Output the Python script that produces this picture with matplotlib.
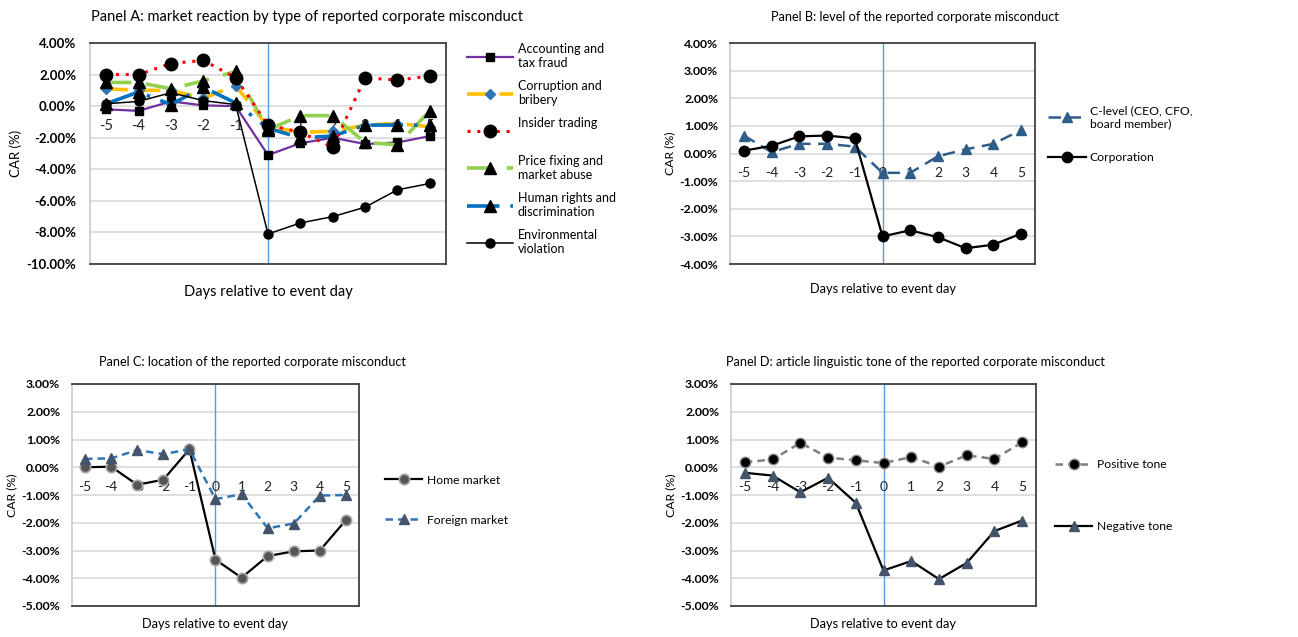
import matplotlib
matplotlib.use("Agg")
import matplotlib.pyplot as plt
from matplotlib.ticker import FuncFormatter, MultipleLocator

plt.rcParams['font.family'] = ['Lato', 'DejaVu Sans']

days = [-5, -4, -3, -2, -1, 0, 1, 2, 3, 4, 5]
day_labels = [str(d) for d in days]

# Panel A: CAR (%) by type of misconduct
accounting = [-0.2, -0.3, 0.3, 0.05, 0.0, -3.1, -2.35, -2.0, -2.4, -2.3, -1.9]
corruption = [1.1, 1.0, 1.0, 0.5, 1.3, -1.3, -1.65, -1.6, -1.2, -1.1, -1.3]
insider = [2.0, 2.0, 2.7, 2.9, 1.8, -1.2, -1.65, -2.6, 1.8, 1.65, 1.9]
price_fixing = [1.5, 1.5, 1.1, 1.6, 2.2, -1.5, -0.6, -0.6, -2.3, -2.45, -0.3]
human_rights = [0.15, 0.9, 0.1, 1.2, 0.2, -1.4, -2.0, -1.9, -1.2, -1.2, -1.2]
environmental = [0.15, 0.3, 0.85, 0.35, 0.1, -8.1, -7.4, -7.0, -6.4, -5.3, -4.9]

# Panel B: level of misconduct
c_level = [0.65, 0.05, 0.35, 0.35, 0.25, -0.7, -0.7, -0.1, 0.15, 0.35, 0.85]
corporation = [0.1, 0.28, 0.62, 0.65, 0.55, -3.0, -2.78, -3.03, -3.43, -3.3, -2.9]

# Panel C: location of misconduct
home_market = [0.0, 0.02, -0.63, -0.45, 0.65, -3.33, -3.98, -3.2, -3.03, -3.0, -1.9]
foreign_market = [0.3, 0.32, 0.62, 0.47, 0.65, -1.15, -0.97, -2.2, -2.03, -1.02, -1.0]

# Panel D: linguistic tone
positive_tone = [0.18, 0.28, 0.88, 0.35, 0.25, 0.15, 0.37, 0.02, 0.43, 0.3, 0.9]
negative_tone = [-0.2, -0.3, -0.9, -0.38, -1.28, -3.72, -3.38, -4.03, -3.45, -2.3, -1.92]

W, H = 1298, 637
fig = plt.figure(figsize=(W / 100, H / 100), dpi=100)


def make_axes(left, top, right, bottom):
    return fig.add_axes([left / W, 1 - bottom / H, (right - left) / W, (bottom - top) / H])


pct = FuncFormatter(lambda v, _: f"{v:.2f}%")


def style(ax, ymin, ymax, step, sizes, ytick_pad, xlabel_pad):
    ytick_fs, xnum_fs, ylab_fs, xlab_fs = sizes
    ax.set_xlim(-5.5, 5.5)
    ax.set_ylim(ymin, ymax)
    ax.yaxis.set_major_locator(MultipleLocator(step))
    ax.yaxis.set_major_formatter(pct)
    ax.grid(axis='y', color='#d9d9d9', lw=1.2, zorder=0)
    ax.set_axisbelow(True)
    ax.set_xticks([])
    ax.tick_params(axis='y', length=0, pad=ytick_pad, labelsize=ytick_fs)
    for lbl in ax.get_yticklabels():
        lbl.set_fontweight('bold')
    for side in ['top', 'right', 'bottom']:
        ax.spines[side].set_color('#404040')
        ax.spines[side].set_linewidth(1.3)
    ax.spines['left'].set_color('#d0d0d0')
    ax.spines['left'].set_linewidth(1.3)
    ax.axvline(0, color='#5b9bd5', lw=1.0, zorder=1)
    for d, lab in zip(days, day_labels):
        ax.annotate(lab, (d, 0), xytext=(0, -14), textcoords='offset points',
                    ha='center', va='center', fontsize=xnum_fs, color='#222222', zorder=2)
    ax.set_ylabel("CAR (%)", fontsize=ylab_fs, labelpad=3)
    ax.set_xlabel("Days relative to event day", fontsize=xlab_fs, labelpad=xlabel_pad)


big = (9.5, 10.5, 9.5, 10.5)
small = (8.8, 10, 8.8, 9.2)


def legend(ax, x, y, fs, hl, ls):
    ax.legend(loc='center left', bbox_to_anchor=(x, y), frameon=False, fontsize=fs,
              handlelength=hl, handletextpad=0.35, labelspacing=ls,
              borderpad=0, borderaxespad=0)


# ---------------- Panel A ----------------
axA = make_axes(90, 43, 446, 264)
style(axA, -10, 4, 2, big, 10, 15)
axA.plot(days, accounting, color='#7030a0', lw=1.6, marker='s', ms=6, mfc='black', mec='black',
         label="Accounting and\ntax fraud", zorder=3)
axA.plot(days, corruption, color='#ffc000', lw=2.6, dashes=(6, 3), marker='D', ms=5,
         mfc='#2e75b6', mec='#2e75b6', label="Corruption and\nbribery", zorder=3)
axA.plot(days, insider, color='#ff0000', lw=2.2, dashes=(1, 2.2), marker='o', ms=9,
         mfc='black', mec='black', label="Insider trading\n", zorder=4)
axA.plot(days, price_fixing, color='#92d050', lw=2.6, dashes=(7, 4), marker='^', ms=9,
         mfc='black', mec='black', label="Price fixing and\nmarket abuse", zorder=3)
axA.plot(days, human_rights, color='#0070c0', lw=2.6, dashes=(9, 3, 1, 3), marker='^', ms=8,
         mfc='black', mec='black', label="Human rights and\ndiscrimination", zorder=3)
axA.plot(days, environmental, color='black', lw=1.1, marker='o', ms=6.5,
         mfc='black', mec='black', label="Environmental\nviolation", zorder=3)
legend(axA, 1.059, 0.52, 9, 3.7, 0.9)
fig.text(307 / W, 1 - 17 / H, "Panel A: market reaction by type of reported corporate misconduct",
         ha='center', va='center', fontsize=10.5)

# ---------------- Panel B ----------------
axB = make_axes(730, 43, 1035, 264)
style(axB, -4, 4, 1, small, 8.5, 14)
axB.plot(days, c_level, color='#2e5d8a', lw=1.8, dashes=(5, 3), marker='^', ms=7,
         mfc='#2e5d8a', mec='#2e5d8a', label="C-level (CEO, CFO,\nboard member)", zorder=3)
axB.plot(days, corporation, color='black', lw=1.6, marker='o', ms=7.5,
         mfc='black', mec='black', label="Corporation", zorder=3)
legend(axB, 1.043, 0.588, 8.7, 3.1, 1.9)
fig.text(915 / W, 1 - 17 / H, "Panel B: level of the reported corporate misconduct",
         ha='center', va='center', fontsize=9.2)

# ---------------- Panel C ----------------
axC = make_axes(72, 384, 359, 606)
style(axC, -5, 3, 1, small, 8.5, 9)
axC.plot(days, home_market, color='black', lw=1.6, marker='o', ms=7.5,
         mfc='#555555', mec='#aaaaaa', mew=1.2, label="Home market", zorder=3)
axC.plot(days, foreign_market, color='#2e75b6', lw=1.8, dashes=(3, 2), marker='^', ms=7,
         mfc='#44546a', mec='#44546a', label="Foreign market", zorder=3)
legend(axC, 1.09, 0.477, 8.7, 3.1, 2.4)
fig.text(252 / W, 1 - 362 / H, "Panel C: location of the reported corporate misconduct",
         ha='center', va='center', fontsize=9.2)

# ---------------- Panel D ----------------
axD = make_axes(731, 384, 1036, 606)
style(axD, -5, 3, 1, small, 8.5, 9)
axD.plot(days, positive_tone, color='#7f7f7f', lw=1.8, dashes=(3, 2), marker='o', ms=7.5,
         mfc='black', mec='#888888', label="Positive tone", zorder=3)
axD.plot(days, negative_tone, color='black', lw=1.6, marker='^', ms=7,
         mfc='#44546a', mec='#44546a', label="Negative tone", zorder=3)
legend(axD, 1.062, 0.498, 8.7, 3.1, 4.2)
fig.text(915 / W, 1 - 362 / H, "Panel D: article linguistic tone of the reported corporate misconduct",
         ha='center', va='center', fontsize=9.2)

fig.savefig("out.png", dpi=100, facecolor='white')
